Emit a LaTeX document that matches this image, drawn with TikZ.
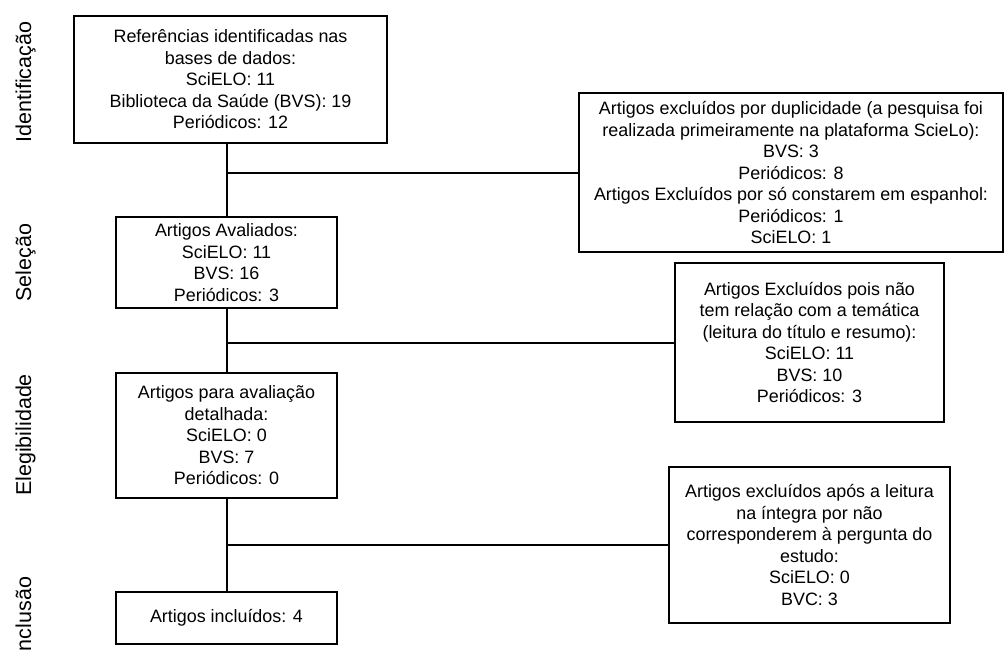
\documentclass[tikz,border=0pt]{standalone}
\usepackage{fontspec}
\setmainfont{Liberation Sans}
\begin{document}
\begin{tikzpicture}[x=1pt,y=-1pt,
  box/.style={draw, line width=2.2pt, align=center, inner sep=0pt, fill=white,
    font=\fontsize{17.9}{21.5}\selectfont},
  link/.style={draw, line width=2pt},
  phase/.style={rotate=90, anchor=base, inner sep=0pt, font=\fontsize{21.5}{24}\selectfont}]
\useasboundingbox (0,0) rectangle (1007,653);
% left column
\node[box, minimum width=313pt, minimum height=127pt] (ref) at (230.5,79.5)
  {Referências identificadas nas\\bases de dados:\\SciELO: 11\\Biblioteca da Saúde (BVS): 19\\Periódicos: 12};
\node[box, minimum width=221pt, minimum height=91pt] (aval) at (226.5,262.5)
  {Artigos Avaliados:\\SciELO: 11\\BVS: 16\\Periódicos: 3};
\node[box, minimum width=221pt, minimum height=125pt] (det) at (226.5,435.5)
  {Artigos para avaliação\\detalhada:\\SciELO: 0\\BVS: 7\\Periódicos: 0};
\node[box, minimum width=221pt, minimum height=52pt] (inc) at (226.5,618)
  {Artigos incluídos: 4};
% right column
\node[box, minimum width=424pt, minimum height=159pt] (ex1) at (791,172.5)
  {Artigos excluídos por duplicidade (a pesquisa foi\\realizada primeiramente na plataforma ScieLo):\\BVS: 3\\Periódicos: 8\\Artigos Excluídos por só constarem em espanhol:\\Periódicos: 1\\SciELO: 1};
\node[box, minimum width=269pt, minimum height=159pt] (ex2) at (809.5,342.5)
  {Artigos Excluídos pois não\\tem relação com a temática\\(leitura do título e resumo):\\SciELO: 11\\BVS: 10\\Periódicos: 3};
\node[box, minimum width=281pt, minimum height=156pt] (ex3) at (809.5,545)
  {Artigos excluídos após a leitura\\na íntegra por não\\corresponderem à pergunta do\\estudo:\\SciELO: 0\\BVC: 3};
% connectors
\path[link] (aval.north) -- (aval.north |- ref.south);
\path[link] (aval.north |- ex1.west) -- (ex1.west);
\path[link] (det.north) -- (aval.south);
\path[link] (aval.south |- ex2.west) -- (ex2.west);
\path[link] (inc.north) -- (det.south);
\path[link] (det.south |- ex3.west) -- (ex3.west);
% phase labels
\node[phase] (p1) at (31,82) {Identificação};
\node[phase] (p2) at (31,262.5) {Seleção};
\node[phase] (p3) at (31,435) {Elegibilidade};
\node[phase] (p4) at (31,617) {Inclusão};
\end{tikzpicture}
\end{document}
